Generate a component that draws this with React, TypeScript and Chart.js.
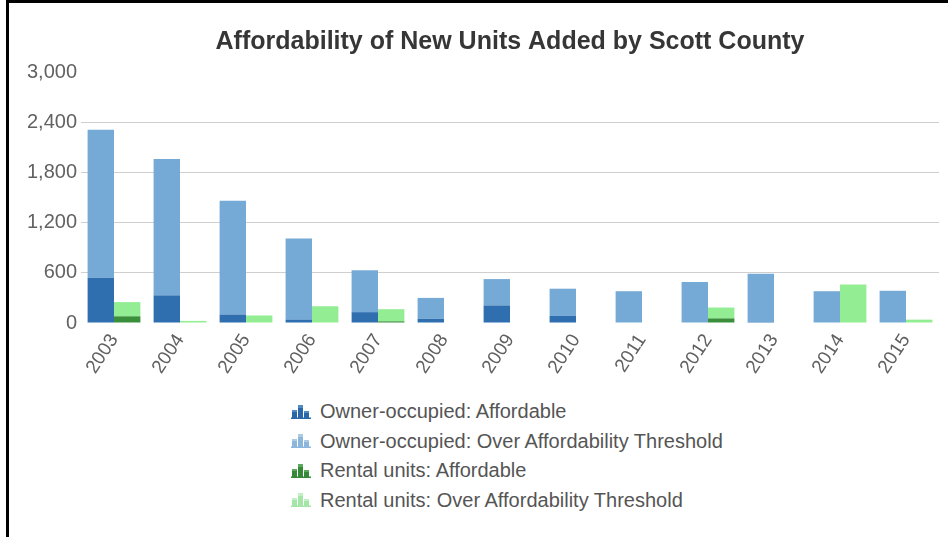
import React, { useEffect, useRef } from "react";
import { Chart, registerables } from "chart.js";

Chart.register(...registerables);

const years = ["2003", "2004", "2005", "2006", "2007", "2008", "2009", "2010", "2011", "2012", "2013", "2014", "2015"];
const ownerAffordable = [540, 330, 100, 40, 130, 50, 210, 85, 0, 0, 10, 0, 0];
const ownerOver = [1770, 1630, 1360, 970, 500, 250, 315, 325, 380, 490, 580, 380, 385];
const rentalAffordable = [80, 0, 0, 0, 20, 0, 0, 0, 0, 55, 0, 0, 0];
const rentalOver = [170, 25, 90, 200, 145, 0, 0, 0, 0, 130, 0, 460, 40];
const yTicks = [0, 600, 1200, 1800, 2400, 3000];

const seriesLabels = [
  "Owner-occupied: Affordable",
  "Owner-occupied: Over Affordability Threshold",
  "Rental units: Affordable",
  "Rental units: Over Affordability Threshold",
];
const seriesColors = ["#2f6fb0", "#76aad6", "#3a8f3a", "#93ee93"];
const iconColors = [
  ["#2a67a8", "#4f8cc6"],
  ["#8db6dc", "#aecbe6"],
  ["#37893a", "#5aa95c"],
  ["#a4e6a8", "#c3efc5"],
];

const FONT = "'Liberation Sans', Arial, sans-serif";
const TITLE = "Affordability of New Units Added by Scott County";

function LegendIcon({ dark, light }: { dark: string; light: string }) {
  return (
    <svg width="20" height="14" viewBox="0 0 20 14" style={{ display: "block" }}>
      <rect x="1" y="7" width="5" height="6" fill={dark} />
      <rect x="1" y="5" width="5" height="2" fill={light} />
      <rect x="7" y="3" width="5" height="10" fill={dark} />
      <rect x="7" y="0" width="5" height="3" fill={light} />
      <rect x="13" y="8" width="5" height="5" fill={dark} />
      <rect x="13" y="6" width="5" height="2" fill={light} />
      <rect x="0" y="12.5" width="20" height="1.5" fill={dark} />
    </svg>
  );
}

export default function App() {
  const ref = useRef<HTMLCanvasElement>(null);

  useEffect(() => {
    const chart = new Chart(ref.current as HTMLCanvasElement, {
      type: "bar",
      data: {
        labels: years,
        datasets: [
          { label: seriesLabels[0], data: ownerAffordable, backgroundColor: seriesColors[0], stack: "owner" },
          { label: seriesLabels[1], data: ownerOver, backgroundColor: seriesColors[1], stack: "owner" },
          { label: seriesLabels[2], data: rentalAffordable, backgroundColor: seriesColors[2], stack: "rental" },
          { label: seriesLabels[3], data: rentalOver, backgroundColor: seriesColors[3], stack: "rental" },
        ],
      },
      options: {
        animation: false,
        responsive: false,
        maintainAspectRatio: false,
        layout: { padding: { left: 0, right: 9, top: 0, bottom: 0 } },
        datasets: { bar: { categoryPercentage: 0.8, barPercentage: 1.0, borderWidth: 0 } } as any,
        plugins: {
          legend: { display: false },
          tooltip: { enabled: false },
          title: {
            display: true,
            text: TITLE,
            fullSize: false,
            color: "#363636",
            font: { family: FONT, size: 25, weight: "bold" },
            padding: { top: 27, bottom: 15 },
          },
        },
        scales: {
          x: {
            stacked: true,
            grid: { display: false, drawTicks: false },
            border: { display: false },
            ticks: {
              color: "#606060",
              font: { family: FONT, size: 19 },
              minRotation: 57,
              maxRotation: 57,
              padding: 7,
              autoSkip: false,
            },
            afterFit: (s: any) => {
              s.height = 67;
            },
          },
          y: {
            stacked: true,
            min: 0,
            max: 3000,
            afterBuildTicks: (s: any) => {
              s.ticks = yTicks.map((v) => ({ value: v }));
            },
            grid: {
              drawTicks: false,
              color: (ctx: any) =>
                ctx.tick && (ctx.tick.value === 0 || ctx.tick.value === 3000) ? "rgba(0,0,0,0)" : "#cfcfcf",
            },
            border: { display: false },
            ticks: {
              color: "#626262",
              font: { family: FONT, size: 20 },
              padding: 4,
            },
            afterFit: (s: any) => {
              s.width = 81;
            },
          },
        },
      },
    });
    return () => chart.destroy();
  }, []);

  return (
    <div style={{ position: "absolute", left: 0, top: 0, width: 948, height: 537, background: "#fff", overflow: "hidden" }}>
      <canvas
        ref={ref}
        width={948}
        height={390}
        style={{ position: "absolute", left: 0, top: 0, width: 948, height: 390, display: "block" }}
      />
      <div style={{ position: "absolute", left: 6, top: 0, width: 942, height: 3, background: "#000" }} />
      <div style={{ position: "absolute", left: 6, top: 0, width: 2.5, height: 537, background: "#000" }} />
      <div style={{ position: "absolute", left: 291, top: 397, fontFamily: FONT, fontSize: 20, color: "#555" }}>
        {seriesLabels.map((lab, i) => (
          <div key={lab} style={{ display: "flex", alignItems: "center", height: 29.5, whiteSpace: "nowrap" }}>
            <div style={{ width: 29, flex: "none" }}>
              <LegendIcon dark={iconColors[i][0]} light={iconColors[i][1]} />
            </div>
            <span>{lab}</span>
          </div>
        ))}
      </div>
    </div>
  );
}
